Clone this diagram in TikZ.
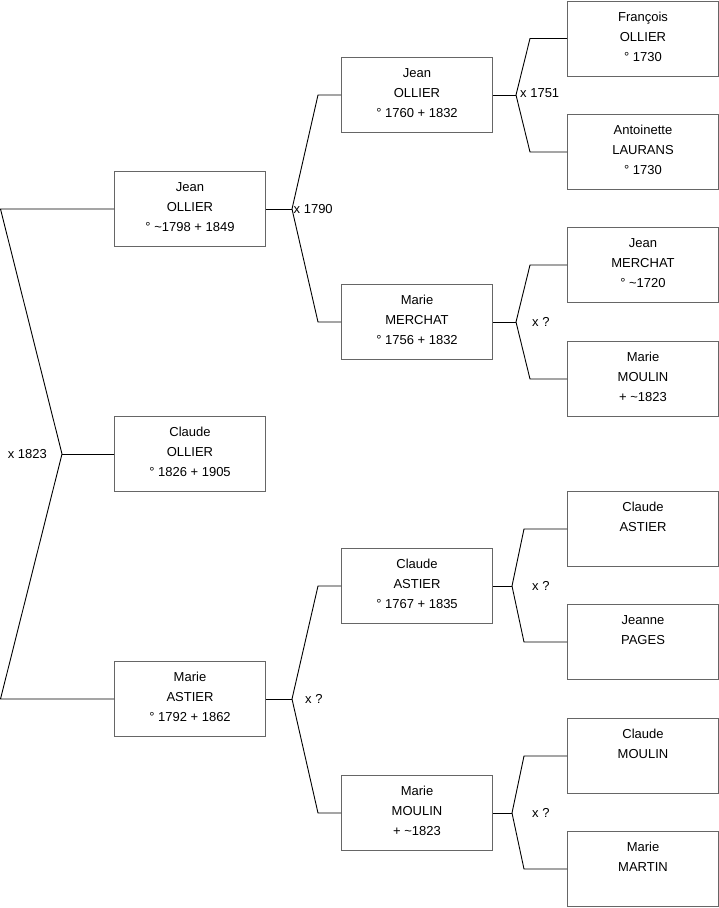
\documentclass[tikz,border=0pt]{standalone}
\usepackage{fontspec}
\setmainfont{Liberation Sans}
\usetikzlibrary{positioning}
\tikzset{
  person/.style={draw=black!60, line width=1pt, minimum width=151, minimum height=75, anchor=north west, inner sep=0pt},
  who/.style={align=center, inner sep=0pt, font=\fontsize{13}{20}\selectfont},
  link/.style={line width=0.9pt},
  wed/.style={inner sep=0pt, font=\fontsize{13}{15}\selectfont}
}
\begin{document}
\begin{tikzpicture}[x=1pt, y=-1pt]
   \useasboundingbox (0,0) rectangle (719,908);
   \node[person] (jean1)    at (114,171) {};
   \node[person] (claude1)  at (114,416) {};
   \node[person] (marie1)   at (114,661) {};
   \node[person] (jean2)    at (341,57)  {};
   \node[person] (merchat2) at (341,284) {};
   \node[person] (astier2)  at (341,548) {};
   \node[person] (moulin2)  at (341,775) {};
   \node[person] (francois3) at (567,0.5) {};
   \node[person] (laurans3) at (567,114) {};
   \node[person] (merchat3) at (567,227) {};
   \node[person] (moulin3)  at (567,341) {};
   \node[person] (astier3)  at (567,491) {};
   \node[person] (pages3)   at (567,604) {};
   \node[person] (cmoulin3) at (567,718) {};
   \node[person] (martin3)  at (567,831) {};
   \node[who, below=11pt of jean1.north]    (jean1txt)    {Jean\\OLLIER\\° \textasciitilde1798 + 1849};
   \node[who, below=11pt of claude1.north]  (claude1txt)  {Claude\\OLLIER\\° 1826 + 1905};
   \node[who, below=11pt of marie1.north]   (marie1txt)   {Marie\\ASTIER\\° 1792 + 1862};
   \node[who, below=11pt of jean2.north]    (jean2txt)    {Jean\\OLLIER\\° 1760 + 1832};
   \node[who, below=11pt of merchat2.north] (merchat2txt) {Marie\\MERCHAT\\° 1756 + 1832};
   \node[who, below=11pt of astier2.north]  (astier2txt)  {Claude\\ASTIER\\° 1767 + 1835};
   \node[who, below=11pt of moulin2.north]  (moulin2txt)  {Marie\\MOULIN\\+ \textasciitilde1823};
   \node[who, below=11pt of francois3.north] (francois3txt) {François\\OLLIER\\° 1730};
   \node[who, below=11pt of laurans3.north] (laurans3txt) {Antoinette\\LAURANS\\° 1730};
   \node[who, below=11pt of merchat3.north] (merchat3txt) {Jean\\MERCHAT\\° \textasciitilde1720};
   \node[who, below=11pt of moulin3.north]  (moulin3txt)  {Marie\\MOULIN\\+ \textasciitilde1823};
   \node[who, below=11pt of astier3.north]  (astier3txt)  {Claude\\ASTIER};
   \node[who, below=11pt of pages3.north]   (pages3txt)   {Jeanne\\PAGES};
   \node[who, below=11pt of cmoulin3.north] (cmoulin3txt) {Claude\\MOULIN};
   \node[who, below=11pt of martin3.north]  (martin3txt)  {Marie\\MARTIN};
   \draw[link] (claude1.west) -- ++(-52,0) coordinate (wed0);
   \draw[link] (jean1.west) -- ++(-113.5,0) -- (wed0);
   \draw[link] (marie1.west) -- ++(-113.5,0) -- (wed0);
   \node[wed, left=15pt of wed0] (wed0txt) {x 1823};
   \draw[link] (jean1.east) -- ++(26,0) coordinate (wed1);
   \draw[link] (jean2.west) -- ++(-23,0) -- (wed1);
   \draw[link] (merchat2.west) -- ++(-23,0) -- (wed1);
   \node[wed, right=1.5pt of wed1] (wed1txt) {x 1790};
   \draw[link] (marie1.east) -- ++(26,0) coordinate (wed2);
   \draw[link] (astier2.west) -- ++(-23,0) -- (wed2);
   \draw[link] (moulin2.west) -- ++(-23,0) -- (wed2);
   \node[wed, right=13pt of wed2] (wed2txt) {x ?};
   \draw[link] (jean2.east) -- ++(23,0) coordinate (wed3);
   \draw[link] (francois3.west) -- ++(-37,0) -- (wed3);
   \draw[link] (laurans3.west) -- ++(-37,0) -- (wed3);
   \node[wed, right=4pt of wed3, yshift=1.5pt] (wed3txt) {x 1751};
   \draw[link] (merchat2.east) -- ++(23,0) coordinate (wed4);
   \draw[link] (merchat3.west) -- ++(-37,0) -- (wed4);
   \draw[link] (moulin3.west) -- ++(-37,0) -- (wed4);
   \node[wed, right=16pt of wed4] (wed4txt) {x ?};
   \draw[link] (astier2.east) -- ++(19,0) coordinate (wed5);
   \draw[link] (astier3.west) -- ++(-43,0) -- (wed5);
   \draw[link] (pages3.west) -- ++(-43,0) -- (wed5);
   \node[wed, right=20pt of wed5] (wed5txt) {x ?};
   \draw[link] (moulin2.east) -- ++(19,0) coordinate (wed6);
   \draw[link] (cmoulin3.west) -- ++(-43,0) -- (wed6);
   \draw[link] (martin3.west) -- ++(-43,0) -- (wed6);
   \node[wed, right=20pt of wed6] (wed6txt) {x ?};
\end{tikzpicture}
\end{document}
